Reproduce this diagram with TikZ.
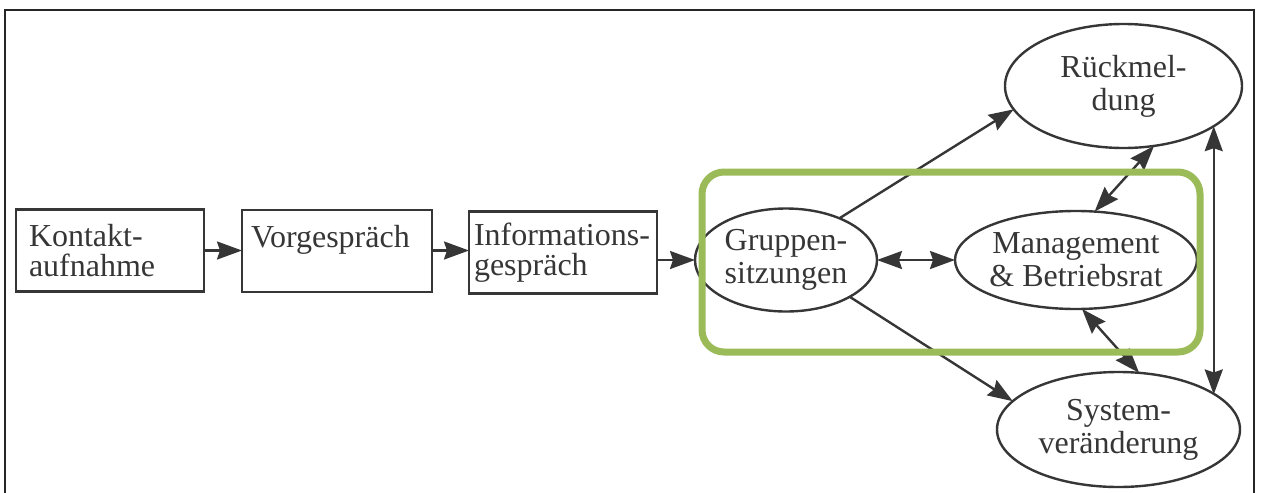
\documentclass[tikz,border=0pt]{standalone}
\usepackage{fontspec}
\setmainfont{Liberation Serif}
\usetikzlibrary{shapes.geometric,arrows.meta}
\definecolor{ink}{HTML}{363636}
\definecolor{frameink}{HTML}{262626}
\definecolor{olivegreen}{HTML}{9BBB59}

\begin{document}
\begin{tikzpicture}[x=1pt,y=-1pt,
  stage/.style={draw=ink, text=ink, line width=2.6pt, rectangle, minimum height=82pt,
    inner ysep=0pt, outer sep=0pt, align=left,
    font=\fontsize{32}{30}\selectfont},
  topic/.style={draw=ink, text=ink, line width=2.4pt, ellipse, inner sep=-40pt,
    outer sep=0pt, align=center, font=\fontsize{32}{33}\selectfont},
  flow/.style={draw=ink, line width=2.4pt, -{Stealth[length=25pt,width=18pt,inset=3pt]}},
  both/.style={draw=ink, line width=2.4pt,
    {Stealth[length=25pt,width=18pt,inset=3pt]}-{Stealth[length=25pt,width=18pt,inset=3pt]}},
  hilite/.style={draw=olivegreen, line width=7pt, rounded corners=22pt}
]
\useasboundingbox (0,0) rectangle (1262,493);

% outer frame, open at the bottom
\draw[frameink, line width=2.6pt] (5,493) -- (5,10) -- (1254,10) -- (1254,493);

% sequence of preparatory steps
\node[stage, inner xsep=13pt, text width=162pt] (kont) at (110,250.5) {Kontakt-\\aufnahme};
\node[stage, inner xsep=9pt, text width=172pt] (vorg) at (337,251) {Vorgespräch\\\mbox{}};
\node[stage, inner xsep=5pt, text width=178pt] (info) at (563,252.5) {Informations-\\gespräch};

% feedback cycle
\node[topic, minimum width=182pt, minimum height=103pt] (grup) at (786,260) {Gruppen-\\sitzungen};
\node[topic, minimum width=242pt, minimum height=98pt] (man) at (1076,260) {Management\\\& Betriebsrat};
\node[topic, minimum width=237pt, minimum height=124pt] (rueck) at (1123.5,86) {Rückmel-\\dung};
\node[topic, minimum width=243pt, minimum height=115pt] (sys) at (1118.5,429.5) {System-\\veränderung};

% connectors
\draw[flow] (kont.east) -- (kont.east -| vorg.west);
\draw[flow] (vorg.east |- kont.east) -- (kont.east -| info.west);
\draw[flow] (info.east |- grup.west) -- (grup.west);
\draw[both] (grup.east) -- (man.west);
\draw[flow] (grup.38) -- (rueck.-168);
\draw[flow] (grup.-30) -- (sys.165);
\draw[both] (man.69) -- (rueck.-63);
\draw[both] (man.-83) -- (sys.70);
\draw[both] (rueck.-24) -- (rueck.-24 |- sys.20);

% highlighted core group
\draw[hilite] (702,172) rectangle (1200,352);
\end{tikzpicture}
\end{document}
